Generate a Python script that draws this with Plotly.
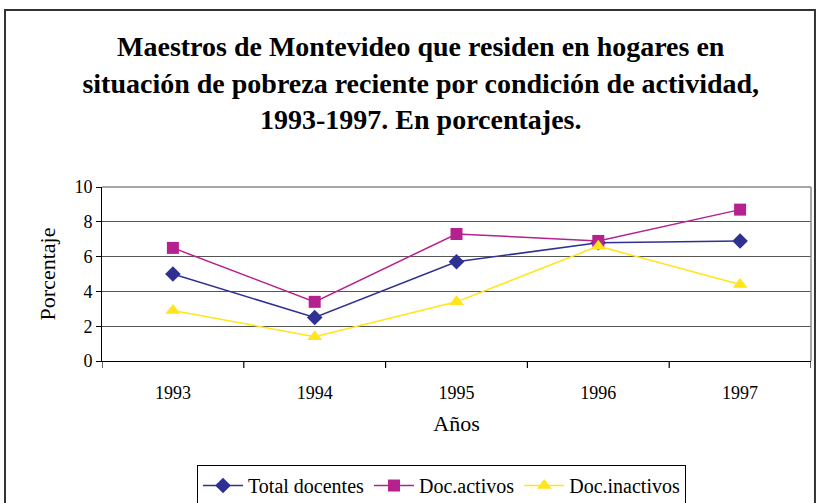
import plotly.graph_objects as go

anios = ["1993", "1994", "1995", "1996", "1997"]
total_docentes = [5.0, 2.5, 5.7, 6.8, 6.9]
doc_activos = [6.5, 3.4, 7.3, 6.9, 8.7]
doc_inactivos = [2.9, 1.4, 3.4, 6.6, 4.4]

serif = "Liberation Serif"

fig = go.Figure()
fig.add_trace(go.Scatter(x=anios, y=total_docentes, name="Total docentes", mode="lines+markers",
                         line=dict(color="#2e3192", width=1.5),
                         marker=dict(symbol="diamond", size=12, color="#2e3192")))
fig.add_trace(go.Scatter(x=anios, y=doc_activos, name="Doc.activos", mode="lines+markers",
                         line=dict(color="#b5218e", width=1.5),
                         marker=dict(symbol="square", size=12, color="#b5218e")))
fig.add_trace(go.Scatter(x=anios, y=doc_inactivos, name="Doc.inactivos", mode="lines+markers",
                         line=dict(color="#ffe51a", width=1.5),
                         marker=dict(symbol="triangle-up", size=13, color="#ffe51a")))

fig.update_layout(
    width=817, height=503,
    margin=dict(l=102, r=6, t=187, b=142),
    paper_bgcolor="white", plot_bgcolor="white",
    font=dict(family=serif, color="black", size=18),
    title=dict(text="<b>Maestros de Montevideo que residen en hogares en<br>situación de pobreza reciente por condición de actividad,<br>1993-1997. En porcentajes.</b>",
               x=0.515, xanchor="center", y=0.888, yanchor="middle",
               font=dict(size=28)),
    showlegend=True,
    legend=dict(orientation="h", x=0.134, xanchor="left",
                yref="container", y=0.0755, yanchor="top",
                bordercolor="black", borderwidth=1, font=dict(size=20),
                itemwidth=40, tracegroupgap=0),
    shapes=[dict(type="rect", xref="paper", yref="paper",
                 x0=-0.1368, x1=1.0056, y0=-0.9, y1=2.017,
                 line=dict(color="#333", width=2), layer="below")],
)
fig.update_xaxes(type="category", range=[-0.5, 4.5], showline=True, linecolor="black",
                 mirror=False, ticks="", showgrid=False, ticklabelstandoff=15,
                 title=dict(text="Años", standoff=14))
fig.update_yaxes(range=[0, 10], dtick=2, showline=True, linecolor="black",
                 ticks="outside", ticklen=5, tickcolor="black",
                 gridcolor="#555", gridwidth=1.2,
                 title=dict(text="Porcentaje", standoff=12))
# ticks between categories on the x axis
for i in range(6):
    fig.add_shape(type="line", xref="x", yref="paper", x0=i - 0.5, x1=i - 0.5, y0=0, y1=-0.04,
                  line=dict(color="black", width=1.2))
# top and right border of plot area
fig.add_shape(type="line", xref="paper", yref="paper", x0=1, x1=1, y0=0, y1=1,
              line=dict(color="#888", width=1.5))
fig.add_shape(type="line", xref="paper", yref="paper", x0=0, x1=1, y0=1, y1=1,
              line=dict(color="#888", width=1.5))

fig.write_html("out.html", config={"displayModeBar": False},
               post_script="document.body.style.margin='0';")
